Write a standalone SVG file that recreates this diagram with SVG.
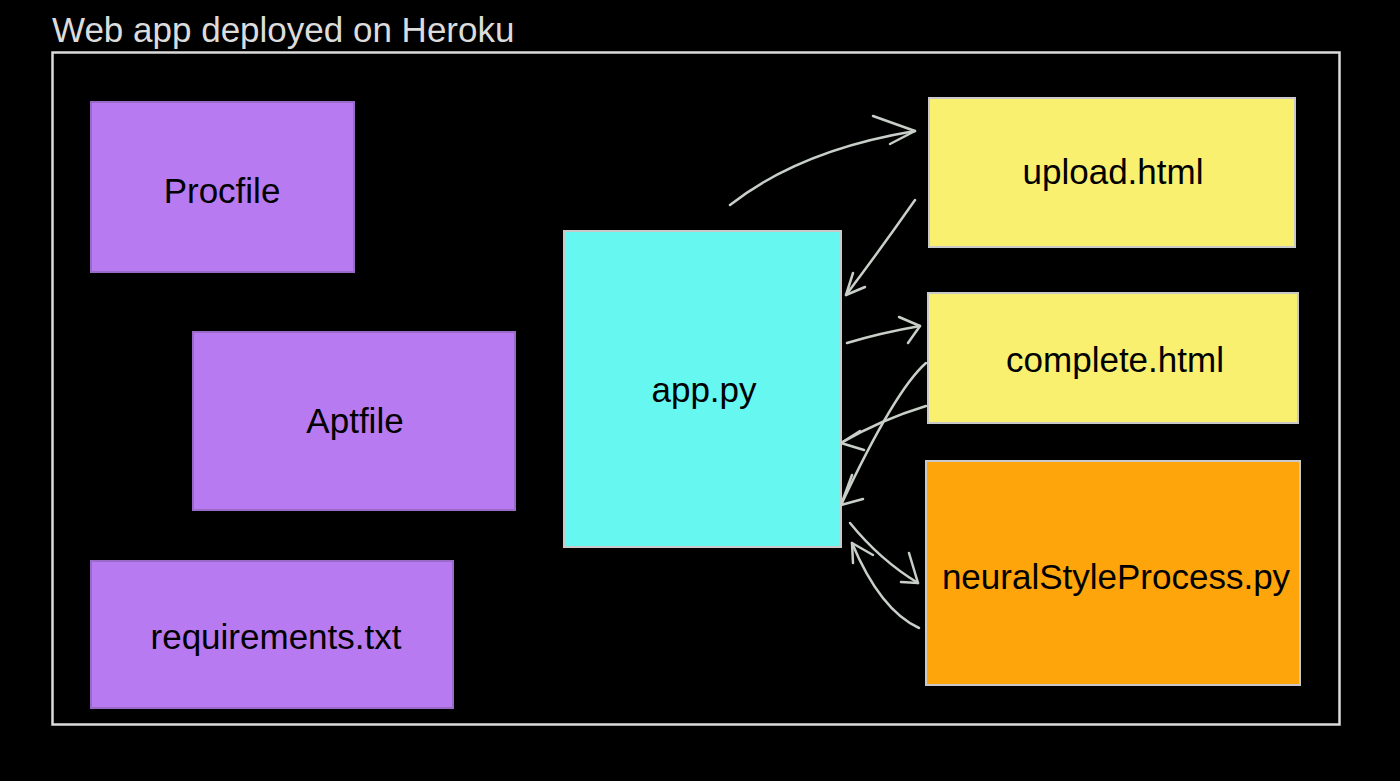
<svg xmlns="http://www.w3.org/2000/svg" width="1400" height="781" viewBox="0 0 1400 781">
<style>
.node rect{stroke:#c9c9c9;stroke-width:2}
.lbl{font-family:"Liberation Sans",Arial,sans-serif;font-size:35px;fill:#000;text-anchor:middle;dominant-baseline:central}
.purple{fill:#b87af0;stroke:#9a6ac8!important}
.cyan{fill:#66f8f0}
.yellow{fill:#f8f06e}
.orange{fill:#fea50c}
.conn path{fill:none;stroke:#c8cec8;stroke-width:2.5;stroke-linecap:round;stroke-linejoin:round}
</style>
<rect x="0" y="0" width="1400" height="781" fill="#000"/>
<g id="container">
<text x="52" y="42" font-family="Liberation Sans,Arial,sans-serif" font-size="35" fill="#dcdcdc">Web app deployed on Heroku</text>
<rect x="52.5" y="52.5" width="1287" height="672" fill="none" stroke="#dcdcdc" stroke-width="2.5"/>
</g>
<g id="procfile" class="node"><rect class="purple" x="91" y="102" width="263" height="170"/><text class="lbl" x="222" y="190">Procfile</text></g>
<g id="aptfile" class="node"><rect class="purple" x="193" y="332" width="322" height="178"/><text class="lbl" x="355" y="420">Aptfile</text></g>
<g id="requirements" class="node"><rect class="purple" x="91" y="561" width="362" height="147"/><text class="lbl" x="276" y="636">requirements.txt</text></g>
<g id="app" class="node"><rect class="cyan" x="564" y="231" width="277" height="316"/><text class="lbl" x="704" y="389">app.py</text></g>
<g id="upload" class="node"><rect class="yellow" x="929" y="98" width="366" height="149"/><text class="lbl" x="1113" y="171">upload.html</text></g>
<g id="complete" class="node"><rect class="yellow" x="928" y="293" width="370" height="130"/><text class="lbl" x="1115" y="359">complete.html</text></g>
<g id="neural" class="node"><rect class="orange" x="926" y="461" width="374" height="224"/><text class="lbl" x="1116" y="576">neuralStyleProcess.py</text></g>
<g id="connectors" class="conn">
<path d="M730 205 Q800 150 915 131"/>
<path d="M873 116 L915 131 L890 144"/>
<path d="M915 200 Q880 250 846 295"/>
<path d="M853 273 L846 295 L865 287"/>
<path d="M847 343 Q880 333 920 326"/>
<path d="M899 317 L920 326 L908 343"/>
<path d="M926 406 Q880 420 841 443"/>
<path d="M860 431 L841 443 L864 450"/>
<path d="M926 363 Q895 390 841 505"/>
<path d="M852 475 L841 505 L863 499"/>
<path d="M850 523 Q880 560 918 583"/>
<path d="M909 553 L918 583 L901 582"/>
<path d="M919 628 Q880 610 852 543"/>
<path d="M853 563 L852 543 L873 555"/>
</g>
</svg>
